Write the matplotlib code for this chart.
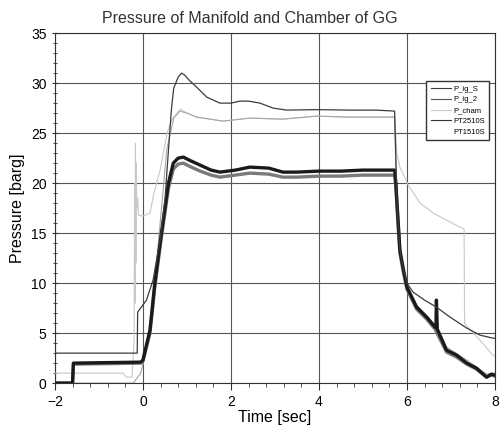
import matplotlib.pyplot as plt
from matplotlib.ticker import MultipleLocator

plt.rcParams["font.family"] = ["Liberation Sans", "DejaVu Sans"]

# P_ig_S : manifold pressure (top curve)
t_ig_s = [-2, -0.13, -0.12, -0.07, 0.08, 0.23, 0.39, 0.5, 0.58, 0.65, 0.7, 0.8,
          0.88, 0.95, 1.05, 1.22, 1.45, 1.75, 2.0, 2.2, 2.4, 2.66, 2.96, 3.27,
          3.95, 4.7, 5.3, 5.72, 5.74, 5.77, 5.84, 5.91, 6.0, 6.14, 6.4, 6.67,
          6.98, 7.36, 7.66, 7.95, 8.0]
p_ig_s = [3.0, 3.0, 7.1, 7.4, 8.3, 10.3, 14.3, 18.3, 23.3, 27.5, 29.5, 30.6,
          31.0, 30.8, 30.3, 29.6, 28.6, 28.0, 28.0, 28.2, 28.2, 28.0, 27.5, 27.3,
          27.35, 27.3, 27.3, 27.2, 24.0, 18.3, 13.3, 11.6, 10.0, 9.1, 8.3, 7.6,
          6.6, 5.5, 4.8, 4.5, 4.5]

# P_ig_2
t_ig_2 = [-2, -0.22, -0.05, 0.16, 0.35, 0.54, 0.7, 0.84, 1.0, 1.22, 1.82,
          2.43, 3.18, 3.95, 4.7, 5.4, 5.72, 5.77, 5.84, 6.0, 6.22, 6.64, 6.9,
          7.36, 7.81, 8.0]
p_ig_2 = [0.0, 0.0, 1.0, 5.0, 14.0, 23.3, 26.5, 27.2, 27.0, 26.6, 26.2,
          26.5, 26.4, 26.7, 26.6, 26.6, 26.6, 18.0, 13.5, 9.8, 7.8, 5.8, 3.6,
          2.3, 0.9, 1.0]

# P_cham
t_cham = [-2, -0.45, -0.38, -0.25, -0.2, -0.19, -0.18, -0.17, -0.16, -0.15,
          -0.14, -0.12, -0.1, 0.0, 0.1, 0.16, 0.25, 0.39, 0.55, 0.65, 0.85,
          1.0, 1.22, 1.82, 2.43, 3.18, 3.95, 4.7, 5.4, 5.72, 5.77, 5.84, 6.03,
          6.3, 6.6, 6.9, 7.2, 7.3, 7.31, 7.36, 7.66, 7.95, 8.0]
p_cham = [1.0, 1.0, 0.6, 0.6, 4.3, 20.0, 8.0, 24.0, 12.0, 22.0,
          17.5, 18.5, 16.8, 16.7, 16.9, 17.0, 19.0, 21.3, 25.0, 26.3, 27.4,
          27.0, 26.6, 26.2, 26.5, 26.4, 26.7, 26.6, 26.6, 26.6, 23.0, 21.6, 19.8,
          18.0, 17.0, 16.3, 15.6, 15.4, 6.0, 5.7, 4.3, 2.8, 2.7]

# PT2510S
t_pt25 = [-2, -1.6, -1.58, -0.05, 0.0, 0.16, 0.27, 0.42, 0.58, 0.69, 0.8,
          0.92, 1.05, 1.3, 1.55, 1.75, 2.1, 2.43, 2.86, 3.18, 3.5, 4.0, 4.5,
          5.0, 5.5, 5.72, 5.75, 5.77, 5.84, 5.91, 6.0, 6.22, 6.45, 6.64, 6.66,
          6.67, 6.69, 6.9, 7.13, 7.36, 7.58, 7.81, 7.92, 8.0]
p_pt25 = [0.0, 0.0, 2.0, 2.1, 2.3, 5.3, 10.0, 15.0, 20.0, 22.0, 22.5,
          22.6, 22.3, 21.8, 21.3, 21.1, 21.3, 21.6, 21.5, 21.1, 21.1, 21.2, 21.2,
          21.3, 21.3, 21.3, 20.0, 18.3, 13.3, 11.6, 9.6, 7.6, 6.6, 5.6, 5.6,
          8.3, 5.4, 3.3, 2.8, 2.0, 1.5, 0.6, 0.9, 0.8]

# PT1510S
t_pt15 = [-2, -1.6, -1.58, -0.05, 0.0, 0.16, 0.27, 0.42, 0.58, 0.69, 0.8,
          0.92, 1.05, 1.3, 1.55, 1.75, 2.1, 2.43, 2.86, 3.18, 3.5, 4.0, 4.5,
          5.0, 5.5, 5.72, 5.75, 5.77, 5.84, 5.91, 6.0, 6.22, 6.45, 6.64, 6.9,
          7.13, 7.36, 7.58, 7.81, 7.92, 8.0]
p_pt15 = [0.0, 0.0, 1.9, 2.0, 2.2, 5.0, 9.6, 14.6, 19.5, 21.4, 21.9,
          22.0, 21.7, 21.2, 20.8, 20.6, 20.8, 21.0, 20.9, 20.6, 20.6, 20.7, 20.7,
          20.8, 20.8, 20.8, 19.5, 18.0, 13.0, 11.3, 9.4, 7.4, 6.4, 5.4, 3.1,
          2.6, 1.9, 1.4, 0.6, 0.8, 0.7]

fig, ax = plt.subplots(figsize=(5.04, 4.30), dpi=100)
fig.subplots_adjust(left=0.109, right=0.982, top=0.923, bottom=0.109)

ax.plot(t_cham, p_cham, color="#c8c8c8", lw=0.8, label="P_cham", zorder=3)
ax.plot(t_ig_2, p_ig_2, color="#a6a6a6", lw=0.8, label="P_ig_2", zorder=3)
ax.plot(t_pt15, p_pt15, color="#7a7a7a", lw=2.4, label="PT1510S", zorder=4)
ax.plot(t_pt25, p_pt25, color="#1a1a1a", lw=2.4, label="PT2510S", zorder=5)
ax.plot(t_ig_s, p_ig_s, color="#3c3c3c", lw=0.9, label="P_ig_S", zorder=6)

ax.set_xlim(-2, 8)
ax.set_ylim(0, 35)
ax.xaxis.set_major_locator(MultipleLocator(2))
ax.xaxis.set_minor_locator(MultipleLocator(0.4))
ax.yaxis.set_major_locator(MultipleLocator(5))
ax.yaxis.set_minor_locator(MultipleLocator(1))
ax.tick_params(axis="both", which="major", labelsize=10, length=5, color="#333")
ax.tick_params(axis="both", which="minor", length=3, color="#333")
ax.tick_params(axis="y", which="both", direction="inout")
ax.grid(True, which="major", color="#555555", lw=0.8)
for s in ax.spines.values():
    s.set_color("#333333")

fig.suptitle("Pressure of Manifold and Chamber of GG", fontsize=11.5,
             x=0.495, y=0.975, va="top", color="#333")
ax.set_xlabel("Time [sec]", fontsize=11.5, labelpad=1)
ax.set_ylabel("Pressure [barg]", fontsize=11.5, labelpad=4)

h, l = ax.get_legend_handles_labels()
order = ["P_ig_S", "P_ig_2", "P_cham", "PT2510S", "PT1510S"]
hh = [h[l.index(n)] for n in order]
leg = ax.legend(hh, order, loc="upper left", bbox_to_anchor=(0.835, 0.875),
                fancybox=False, framealpha=1, edgecolor="#333",
                handlelength=2.6, handletextpad=0.3, borderpad=0.6,
                labelspacing=0.45,
                prop={"family": ["Liberation Sans Narrow", "Liberation Sans"],
                      "size": 5.5})
for line in leg.get_lines():
    line.set_linewidth(0.8)
leg.get_lines()[4].set_color("white")
leg.get_lines()[3].set_color("#333")
leg.get_lines()[1].set_color("#555")

fig.savefig("out.png", dpi=100)
